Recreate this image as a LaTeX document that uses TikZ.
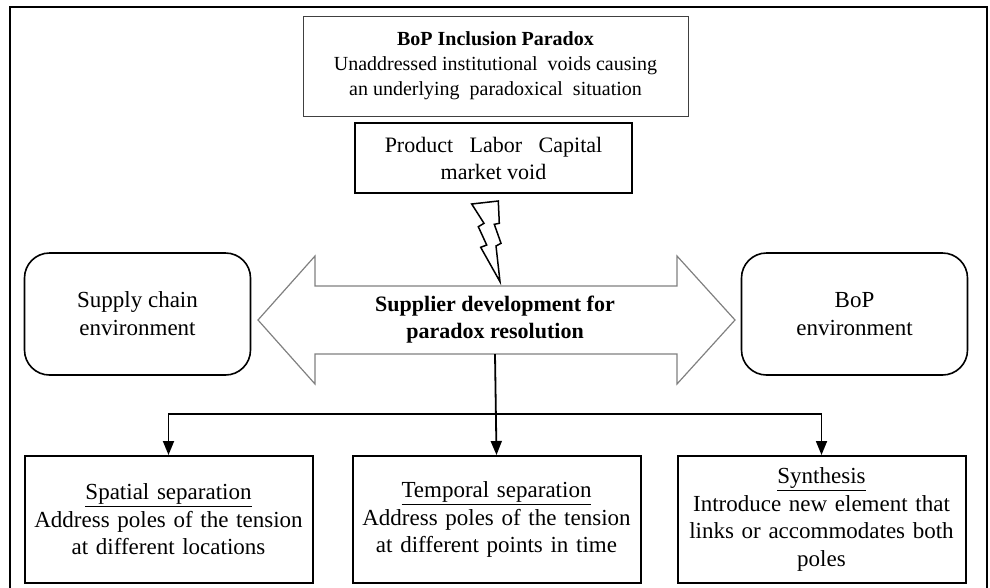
\documentclass[tikz,border=0pt]{standalone}
\usepackage{fontspec}
\setmainfont{Liberation Serif}
\usetikzlibrary{arrows.meta,calc}

\tikzset{
  plainbox/.style={draw, line width=1.2pt, align=center, inner sep=2pt},
  envbox/.style={draw, line width=1.6pt, rounded corners=25pt, align=center,
    minimum width=226pt, minimum height=122pt, font=\fontsize{23}{28}\selectfont},
  sepbox/.style={draw, line width=2pt, align=center, text width=280pt,
    minimum width=288pt, minimum height=127pt, font=\fontsize{23}{27.5}\selectfont},
  link/.style={draw, line width=1.8pt, -{Triangle[length=14pt,width=11pt]}}
}

\begin{document}
\begin{tikzpicture}[x=1pt,y=-1pt]
    \useasboundingbox (0,0) rectangle (990,587);
    % outer frame, open at the bottom
    \draw[line width=2pt] (10,600) -- (10,7) -- (987,7) -- (987,600);

    \node[plainbox, draw=black!75, line width=1pt, minimum width=385pt, minimum height=100pt,
      font=\fontsize{20}{25}\selectfont] (paradox) at (495.5,66)
      {\textbf{BoP Inclusion Paradox}\\
       Unaddressed institutional\ \ voids causing\\
       an underlying\ \ paradoxical\ \ situation};
    \node[plainbox, line width=2pt, minimum width=277pt, minimum height=70pt,
      font=\fontsize{22}{27}\selectfont] (voids) at (493.5,158)
      {Product\ \ \ Labor\ \ \ Capital\\ market void};

    % lightning
    \draw[line width=1.5pt, line join=miter] (471.7,204) -- (498.3,201) -- (499.3,223.3)
      -- (494.3,224.3) -- (501,243.3) -- (496,246) -- (500,281.7) -- (480.7,247.3)
      -- (486.7,245) -- (478.3,226.7) -- (484,223.3) -- cycle;

    % double arrow
    \def \tipl {258}
    \def \tipr {735}
    \def \basel {315}
    \def \baser {677}
    \draw[black!50, line width=1.2pt] (\tipl,320) -- (\basel,256) -- (\basel,286) -- (\baser,286)
      -- (\baser,256) -- (\tipr,320) -- (\baser,384) -- (\baser,354) -- (\basel,354)
      -- (\basel,384) -- cycle;
    \node[minimum height=68pt, inner sep=0pt, align=center,
      font=\bfseries\fontsize{22}{27}\selectfont] (dev) at (495,320)
      {Supplier development for\\ paradox resolution};

    \node[envbox] (supply) at (137.5,314) {Supply chain\\ environment};
    \node[envbox] (bop) at (854.5,314) {BoP\\ environment};

    \node[sepbox] (spatial) at (168.5,519.5)
      {\underline{Spatial separation}\\ Address poles of the tension\\ at different locations};
    \node[sepbox] (temporal) at (496.5,519.5)
      {\underline{Temporal separation}\\ Address poles of the tension\\ at different points in time};
    \node[sepbox] (synth) at (821.5,519.5)
      {\underline{Synthesis}\\ Introduce new element that\\ links or accommodates both\\ poles};

    \coordinate (fork) at (495,414);
    \draw[link] (dev.south) -- (temporal.north);
    \draw[link] (fork) -| (spatial.north);
    \draw[link] (fork) -| (synth.north);
\end{tikzpicture}
\end{document}
